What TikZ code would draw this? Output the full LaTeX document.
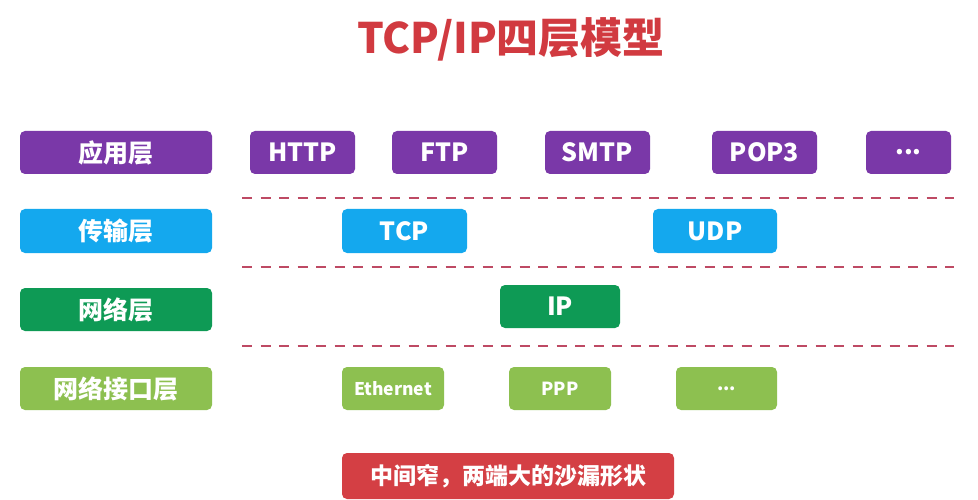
\documentclass[tikz,border=0pt]{standalone}
\usepackage{fontspec}
\setmainfont{Noto Sans CJK SC}
\definecolor{cpurple}{HTML}{7A38A8}
\definecolor{cblue}{HTML}{14A8EE}
\definecolor{cgreen}{HTML}{0E9A55}
\definecolor{clgreen}{HTML}{8DC050}
\definecolor{cred}{HTML}{D43F44}
\definecolor{ctitle}{HTML}{D13A40}
\definecolor{cdash}{HTML}{BE4A64}
\tikzset{
  box/.style={rounded corners=5pt, inner sep=0pt, text=white, font=\bfseries\fontsize{25}{29}\selectfont},
  pbox/.style={box, fill=cpurple},
  bbox/.style={box, fill=cblue},
  gbox/.style={box, fill=cgreen},
  lbox/.style={box, fill=clgreen},
  rbox/.style={box, fill=cred, font=\bfseries\fontsize{23}{27}\selectfont},
  sep/.style={draw=cdash, line width=2.6pt, dash pattern=on 10pt off 8.5pt},
}
\begin{document}
\begin{tikzpicture}[x=1pt,y=-1pt]
\useasboundingbox[fill=white] (0,0) rectangle (978,500);
\node[text=ctitle, font=\bfseries\fontsize{42}{46}\selectfont] (title) at (511,39) {TCP/IP四层模型};
% row 1
\node[pbox, minimum width=192pt, minimum height=43pt] (app) at (116,152.5) {应用层};
\node[pbox, minimum width=105pt, minimum height=43pt] (http) at (302.5,152.5) {HTTP};
\node[pbox, minimum width=105pt, minimum height=43pt] (ftp) at (444.5,152.5) {FTP};
\node[pbox, minimum width=105pt, minimum height=43pt] (smtp) at (597.5,152.5) {SMTP};
\node[pbox, minimum width=105pt, minimum height=43pt] (pop) at (764.5,152.5) {POP3};
\node[pbox, minimum width=85pt, minimum height=43pt] (adots) at (908.5,152.5) {...};
% row 2
\node[bbox, minimum width=192pt, minimum height=44pt] (trans) at (116,231) {传输层};
\node[bbox, minimum width=125pt, minimum height=44pt] (tcp) at (404.5,231) {TCP};
\node[bbox, minimum width=124pt, minimum height=44pt] (udp) at (715,231) {UDP};
% row 3
\node[gbox, minimum width=192pt, minimum height=43pt] (net) at (116,309.5) {网络层};
\node[gbox, minimum width=120pt, minimum height=43pt] (ip) at (560,306.5) {IP};
% row 4
\node[lbox, minimum width=192pt, minimum height=43pt] (link) at (116,388.5) {网络接口层};
\node[lbox, minimum width=102pt, minimum height=43pt, font=\bfseries\fontsize{17.5}{20}\selectfont] (eth) at (393,388.5) {Ethernet};
\node[lbox, minimum width=102pt, minimum height=43pt, font=\bfseries\fontsize{18}{20}\selectfont] (ppp) at (560,388.5) {PPP};
\node[lbox, minimum width=101pt, minimum height=43pt, font=\bfseries\fontsize{18}{20}\selectfont] (ldots) at (726.5,388.5) {...};
% bottom
\node[rbox, minimum width=332pt, minimum height=46pt] (note) at (508,476) {中间窄，两端大的沙漏形状};
% separators
\coordinate (s1a) at (242,198); \coordinate (s1b) at (954,198);
\coordinate (s2a) at (242,267); \coordinate (s2b) at (954,267);
\coordinate (s3a) at (242,346); \coordinate (s3b) at (954,346);
\draw[sep] (s1a) -- (s1b);
\draw[sep] (s2a) -- (s2b);
\draw[sep] (s3a) -- (s3b);
\end{tikzpicture}
\end{document}
